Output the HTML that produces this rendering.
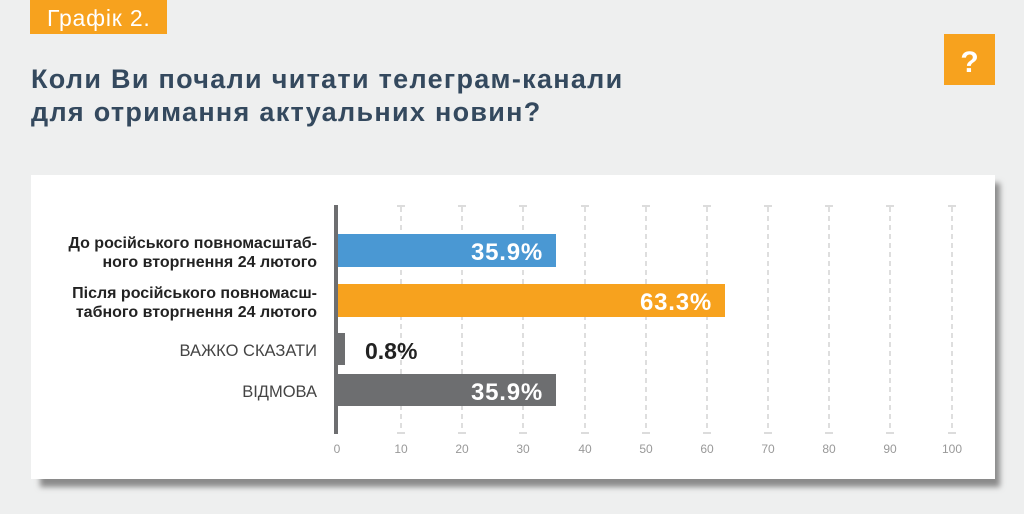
<!DOCTYPE html>
<html><head><meta charset="utf-8"><style>
body{margin:0;width:1024px;height:514px;background:#eeefef;overflow:hidden;font-family:"Liberation Sans",sans-serif;}
</style></head><body>
<svg width="1024" height="514" xmlns="http://www.w3.org/2000/svg" style="position:absolute;left:0;top:0">
<defs><filter id="b" x="-5%" y="-5%" width="110%" height="120%"><feGaussianBlur stdDeviation="3"/></filter></defs>
<rect x="0" y="0" width="1024" height="514" fill="#eeefef"/>
<rect x="30" y="0" width="137" height="34" fill="#f7a21e"/>
<text x="47" y="26" font-size="23" fill="#fff" letter-spacing="0.8">Графік 2.</text>
<text x="31" y="88" font-size="27" font-weight="bold" fill="#34495e" letter-spacing="1.3">Коли Ви почали читати телеграм-канали</text>
<text x="31" y="121" font-size="27" font-weight="bold" fill="#34495e" letter-spacing="1.3">для отримання актуальних новин?</text>
<rect x="944" y="34" width="51" height="51" fill="#f7a21e"/>
<text x="969.5" y="72" font-size="30" font-weight="bold" fill="#fff" text-anchor="middle">?</text>
<rect x="40" y="183" width="960" height="304" fill="#8a8a8a" filter="url(#b)"/>
<rect x="31" y="175" width="964" height="304" fill="#fff"/>
<g stroke="#c8c8c8" stroke-width="1.2">
<g stroke-dasharray="5,4">
<line x1="401" y1="207" x2="401" y2="432"/><line x1="462" y1="207" x2="462" y2="432"/><line x1="523" y1="207" x2="523" y2="432"/><line x1="585" y1="207" x2="585" y2="432"/><line x1="646" y1="207" x2="646" y2="432"/><line x1="707" y1="207" x2="707" y2="432"/><line x1="768" y1="207" x2="768" y2="432"/><line x1="829" y1="207" x2="829" y2="432"/><line x1="890" y1="207" x2="890" y2="432"/><line x1="952" y1="207" x2="952" y2="432"/>
</g>
<g>
<path d="M397 206h8M458 206h8M519 206h8M581 206h8M642 206h8M703 206h8M764 206h8M825 206h8M886 206h8M948 206h8"/>
<path d="M397 433h8M458 433h8M519 433h8M581 433h8M642 433h8M703 433h8M764 433h8M825 433h8M886 433h8M948 433h8"/>
</g>
</g>
<rect x="334" y="205" width="4" height="229" fill="#6d6e70"/>
<rect x="338" y="234" width="218" height="33" fill="#4a98d3"/>
<rect x="338" y="284" width="387" height="33" fill="#f7a21e"/>
<rect x="338" y="333" width="7" height="32" fill="#6d6e70"/>
<rect x="338" y="374" width="218" height="32" fill="#6d6e70"/>
<g font-size="24" font-weight="bold" fill="#fff" text-anchor="end" letter-spacing="0.8">
<text x="543" y="260">35.9%</text>
<text x="712" y="310">63.3%</text>
<text x="543" y="400">35.9%</text>
</g>
<text x="365" y="359" font-size="23" font-weight="bold" fill="#222">0.8%</text>
<g font-size="16" text-anchor="end" fill="#222" font-weight="bold">
<text x="317" y="248">До російського повномасштаб-</text>
<text x="317" y="267">ного вторгнення 24 лютого</text>
<text x="317" y="298">Після російського повномасш-</text>
<text x="317" y="317">табного вторгнення 24 лютого</text>
</g>
<g font-size="16.5" text-anchor="end" fill="#444">
<text x="317" y="356">ВАЖКО СКАЗАТИ</text>
<text x="317" y="397">ВІДМОВА</text>
</g>
<g font-size="12" fill="#999" text-anchor="middle">
<text x="337" y="453">0</text><text x="401" y="453">10</text><text x="462" y="453">20</text><text x="523" y="453">30</text><text x="585" y="453">40</text><text x="646" y="453">50</text><text x="707" y="453">60</text><text x="768" y="453">70</text><text x="829" y="453">80</text><text x="890" y="453">90</text><text x="952" y="453">100</text>
</g>
</svg>
</body></html>
